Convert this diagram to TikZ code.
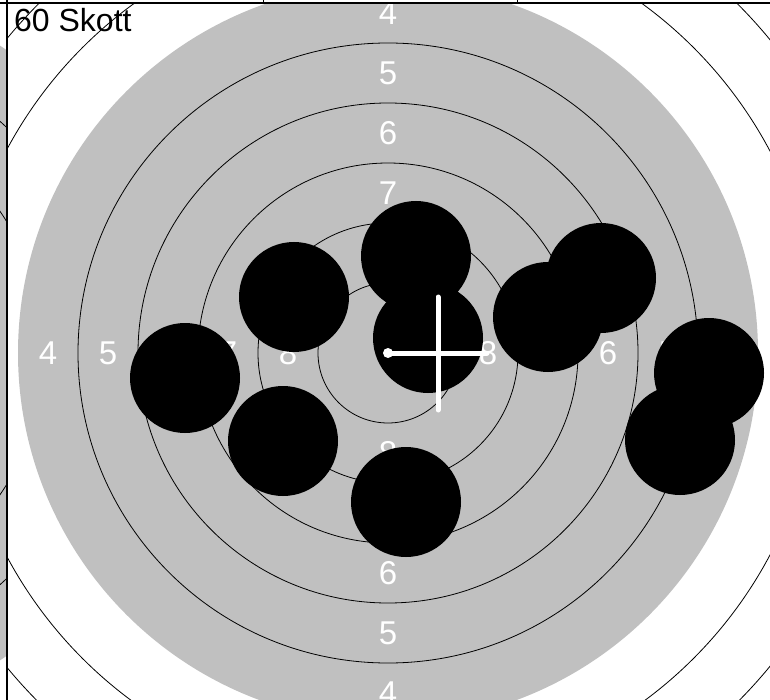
\documentclass[tikz,border=0pt]{standalone}
\usepackage{fontspec}
\setmainfont{Liberation Sans}
\usepackage{tikz}
\definecolor{targetgray}{RGB}{192,192,192}

\begin{document}
\begin{tikzpicture}[x=1pt,y=-1pt,
    ring/.style={draw=black,line width=0.8pt},
    ringlabel/.style={text=white,inner sep=0pt,font=\fontsize{33}{36}\selectfont},
    shot/.style={fill=black},
    crossline/.style={draw=white,line width=5pt,line cap=round},
    frameline/.style={draw=black,line width=1.5pt}]
        \useasboundingbox (0,0) rectangle (770,700);
        % Neighbouring target (only its right edge is shown)
        \begin{scope}
          \clip (0,0) rectangle (7,700);
          \fill[targetgray] (-206,353) circle (370);
          \foreach \r in {70,130,190,250,310}{
            \draw[ring] (-206,353) circle (\r);
          }
        \end{scope}
        % Main target
        \begin{scope}
          \clip (7,3) rectangle (770,700);
          \coordinate (centre) at (388,353);
          \fill[targetgray] (centre) circle (370);
          \foreach \r in {70,130,190,250,310,432,494}{
            \draw[ring] (centre) circle (\r);
          }
          % Ring numbers
          \foreach \n/\r in {4/340,5/280,6/220,7/160,8/100}{
            \node[ringlabel] (lbl-\n-w) at (388-\r,353) {\n};
            \node[ringlabel] (lbl-\n-e) at (388+\r,353) {\n};
            \node[ringlabel] (lbl-\n-n) at (388,353-\r) {\n};
            \node[ringlabel] (lbl-\n-s) at (388,353+\r) {\n};
          }
          % Shots
          \foreach \sx/\sy in {416/256,428/338,294/297,185/378,283/441,406/502,548/317,601/278,709/373,680/440}{
            \fill[shot] (\sx,\sy) circle (55);
          }
          % Mean point of impact
          \coordinate (mpi) at (438,353);
          \draw[crossline] (centre) -- ([xshift=49pt]mpi);
          \draw[crossline] ([yshift=56pt]mpi) -- ([yshift=-57pt]mpi);
          \fill[white] (centre) circle (5);
        \end{scope}
        % Panel frame
        \draw[frameline] (7,0) -- (7,700);
        \draw[frameline] (0,3) -- (770,3);
        \draw[line width=1pt] (263,0) -- (263,3);
        \draw[line width=1pt] (517,0) -- (517,3);
        \node[anchor=base west,inner sep=0pt,font=\fontsize{32}{36}\selectfont] (title) at (14,32) {60 Skott};
      \end{tikzpicture}
\end{document}
